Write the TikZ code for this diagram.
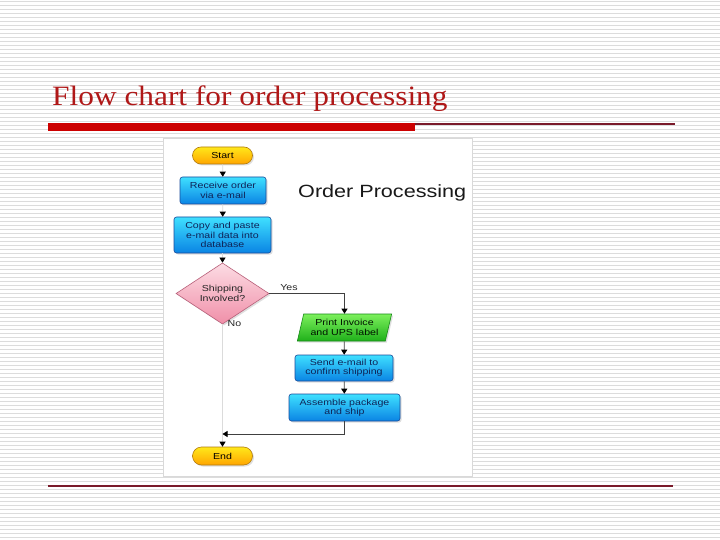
\documentclass[tikz,border=0pt]{standalone}
\usepackage{fontspec}
\newfontfamily\nodefont[FakeStretch=1.22]{Liberation Sans}
\newfontfamily\titlefont[FakeStretch=1.12]{Liberation Serif}
\usetikzlibrary{shapes.geometric,shapes.misc,arrows.meta,shadows}
\definecolor{titlered}{HTML}{B01818}
\definecolor{barred}{HTML}{CC0000}
\definecolor{thinred}{HTML}{7A1A2A}
\definecolor{boxborder}{HTML}{1A4A9A}
\definecolor{boxtop}{HTML}{3FE0FF}
\definecolor{boxbot}{HTML}{0A84E4}
\definecolor{navy}{HTML}{0F2458}
\definecolor{termtop}{HTML}{FFE81A}
\definecolor{termbot}{HTML}{FFA500}
\definecolor{termborder}{HTML}{B07A10}
\definecolor{pinktop}{HTML}{FCDCE4}
\definecolor{pinkbot}{HTML}{F08FA8}
\definecolor{pinkborder}{HTML}{B8607A}
\definecolor{greentop}{HTML}{7CF05C}
\definecolor{greenbot}{HTML}{1FB01A}
\definecolor{greenborder}{HTML}{178A17}
\definecolor{bgline}{HTML}{DCDCDC}
\tikzset{
  nodetext/.style={font=\nodefont\fontsize{8.7}{9.3}\selectfont, align=center, inner sep=1pt},
  shad/.style={drop shadow={opacity=0.25, shadow xshift=1.5pt, shadow yshift=-1.5pt}},
  bluebox/.style={nodetext, shad, rectangle, rounded corners=2.5pt, draw=boxborder, line width=0.6pt,
    top color=boxtop, bottom color=boxbot, text=navy},
  termbox/.style={nodetext, shad, rounded rectangle, draw=termborder, line width=0.6pt,
    top color=termtop, bottom color=termbot, text=black, minimum width=62pt, minimum height=17pt},
  decbox/.style={nodetext, shad, diamond, draw=pinkborder, line width=0.6pt,
    top color=pinktop, bottom color=pinkbot, text=black!85, minimum width=93pt, minimum height=53pt, inner sep=0pt},
  iobox/.style={nodetext, shad, trapezium, trapezium left angle=73, trapezium right angle=107,
    trapezium stretches=true, draw=greenborder, line width=0.6pt,
    top color=greentop, bottom color=greenbot, text=black!80!green!40!black},
  lightconn/.style={draw=black!14, line width=0.7pt, -{Triangle[length=5pt,width=6pt,color=black]}},
  darkconn/.style={draw=black!75, line width=0.8pt, -{Triangle[length=5pt,width=6pt,color=black]}},
  lbl/.style={font=\nodefont\fontsize{8.7}{9}\selectfont, text=black!85, inner sep=0pt}
}
\begin{document}
\begin{tikzpicture}[x=1pt,y=-1pt]
\useasboundingbox (0,0) rectangle (720,540);
\fill[white] (0,0) rectangle (720,540);
\foreach \i in {0,...,134} \draw[line width=1pt, bgline] (0,\i*4+1.5) -- (720,\i*4+1.5);
% title
\node[anchor=base west, text=titlered, font=\titlefont\fontsize{28}{31}\selectfont, inner sep=0pt] (title) at (52,106) {Flow chart for order processing};
\fill[barred] (48,123.5) rectangle (415,131.5);
\draw[thinred, line width=1.2pt] (415,124) -- (675,124);
\draw[thinred, line width=1.2pt] (48,486) -- (673,486);
% panel
\filldraw[fill=white, draw=black!15, line width=0.8pt] (163,138) rectangle (472,476);
% heading
\node[anchor=base west, font=\nodefont\fontsize{17.7}{20}\selectfont, text=black!90, inner sep=0pt] (heading) at (298,197) {Order Processing};
% nodes
\node[termbox] (start) at (222.5,155.5) {Start};
\node[bluebox, minimum width=86pt, minimum height=27pt] (receive) at (223,190.5) {Receive order\\via e-mail};
\node[bluebox, minimum width=97pt, minimum height=36pt] (copy) at (222.5,235) {Copy and paste\\e-mail data into\\database};
\node[decbox] (ship) at (222.5,293.5) {Shipping\\Involved?};
\node[iobox, minimum width=95pt, minimum height=27pt] (print) at (344.5,327.5) {Print Invoice\\and UPS label};
\node[bluebox, minimum width=98pt, minimum height=26pt] (send) at (344,368) {Send e-mail to\\confirm shipping};
\node[bluebox, minimum width=111pt, minimum height=27pt] (assemble) at (344.5,407.5) {Assemble package\\and ship};
\node[termbox, minimum height=18pt] (end) at (222.5,456) {End};
\coordinate (join) at (222.5,434);
% labels
\node[lbl] (yes) at (289,288) {Yes};
\node[lbl] (no) at (234.5,323.5) {No};
% connectors
\draw[lightconn] (start) -- (receive);
\draw[lightconn] (receive) -- (copy);
\draw[lightconn] (copy) -- (ship);
\draw[darkconn] (ship.east) -| (print.north);
\draw[darkconn] (print) -- (send);
\draw[darkconn] (send) -- (assemble);
\draw[lightconn] (ship.south) -- (end.north);
\draw[darkconn] (assemble.south) |- (join);
\end{tikzpicture}
\end{document}
